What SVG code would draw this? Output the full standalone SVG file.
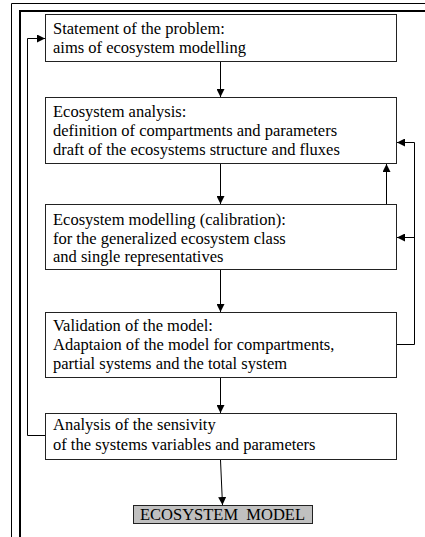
<svg xmlns="http://www.w3.org/2000/svg" width="425" height="537" viewBox="0 0 425 537">
  <style>
    .box { fill: #fff; stroke: #222; stroke-width: 1; }
    .final { fill: #c0c0c0; stroke: #222; stroke-width: 1; }
    .wire { fill: none; stroke: #000; stroke-width: 1; }
  </style>
  <defs>
    <marker id="arr" viewBox="0 0 8 8" refX="8" refY="4" markerWidth="8" markerHeight="8" markerUnits="userSpaceOnUse" orient="auto">
      <path d="M0,0 L8,4 L0,8 Z" fill="#000"/>
    </marker>
  </defs>

  <!-- page frame: thin outer rule and heavy inner rule -->
  <g id="frame">
    <path d="M11.5,537 V3.5 H425" fill="none" stroke="#000" stroke-width="1"/>
    <path d="M20,537 V11 H425" fill="none" stroke="#000" stroke-width="2"/>
  </g>

  <g font-family="Liberation Serif, DejaVu Serif, serif" font-size="16.5" fill="#000">
  <g id="n1">
    <rect class="box" x="45.5" y="14.5" width="351" height="47"/>
    <text x="53" y="34">Statement of the problem:</text>
    <text x="53" y="52.5">aims of ecosystem modelling</text>
  </g>

  <g id="n2">
    <rect class="box" x="45.5" y="97.5" width="351" height="66"/>
    <text x="53" y="117">Ecosystem analysis:</text>
    <text x="53" y="136">definition of compartments and parameters</text>
    <text x="53" y="155">draft of the ecosystems structure and fluxes</text>
  </g>

  <g id="n3">
    <rect class="box" x="45.5" y="204.5" width="351" height="65"/>
    <text x="53" y="225">Ecosystem modelling (calibration):</text>
    <text x="53" y="243.5">for the generalized ecosystem class</text>
    <text x="53" y="262">and single representatives</text>
  </g>

  <g id="n4">
    <rect class="box" x="45.5" y="312.5" width="351" height="65"/>
    <text x="53" y="331">Validation of the model:</text>
    <text x="53" y="350">Adaptaion of the model for compartments,</text>
    <text x="53" y="369">partial systems and the total system</text>
  </g>

  <g id="n5">
    <rect class="box" x="45.5" y="413.5" width="351" height="46"/>
    <text x="53" y="430">Analysis of the sensivity</text>
    <text x="53" y="449.5">of the systems variables and parameters</text>
  </g>

  <g id="n6">
    <rect class="final" x="133.5" y="505.5" width="179" height="18"/>
    <text x="222.5" y="519.5" text-anchor="middle" xml:space="preserve">ECOSYSTEM  MODEL</text>
  </g>
  </g>

  <g id="connectors">
    <path class="wire" d="M220.5,62 V97" marker-end="url(#arr)"/>
    <path class="wire" d="M220.5,164 V204" marker-end="url(#arr)"/>
    <path class="wire" d="M220.5,270 V312" marker-end="url(#arr)"/>
    <path class="wire" d="M220.5,378 V413" marker-end="url(#arr)"/>
    <path class="wire" d="M220.5,460 L222.5,505" marker-end="url(#arr)"/>
    <!-- calibration feeds back into the analysis -->
    <path class="wire" d="M386.5,204 V164" marker-end="url(#arr)"/>
    <!-- validation loop on the right -->
    <path class="wire" d="M397,344.5 H414.5 V142.5 H397" marker-end="url(#arr)"/>
    <path class="wire" d="M414.5,237.5 H397" marker-end="url(#arr)"/>
    <!-- sensitivity loop on the left -->
    <path class="wire" d="M45,435.5 H27.5 V38.5 H45" marker-end="url(#arr)"/>
  </g>
</svg>
